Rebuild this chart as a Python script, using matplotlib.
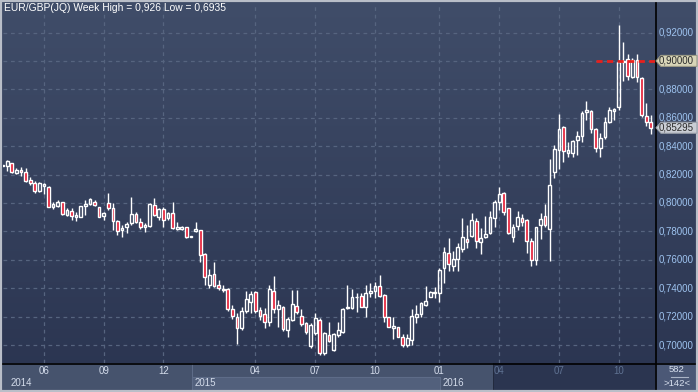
import matplotlib
matplotlib.use("Agg")
import matplotlib.pyplot as plt
import matplotlib.transforms as mtransforms
from matplotlib.patches import Rectangle, Polygon
import numpy as np

plt.rcParams['font.family'] = ['Liberation Sans', 'DejaVu Sans']

W, H = 698, 392

# weekly EUR/GBP candles (oldest first)
opens = [0.8263, 0.8260, 0.8279, 0.8213, 0.8232, 0.8216, 0.8162, 0.8143, 0.8087, 0.8120,
         0.8115, 0.7969, 0.7981, 0.8005, 0.7915, 0.7944, 0.7904, 0.7904, 0.7979, 0.7993,
         0.8005, 0.7969, 0.7911, 0.7998, 0.7962, 0.7873, 0.7810, 0.7828, 0.7857, 0.7920,
         0.7868, 0.7828, 0.7838, 0.7986, 0.7904, 0.7955, 0.7892, 0.7927, 0.7814, 0.7819,
         0.7828, 0.7761, 0.7805, 0.7810, 0.7638, 0.7422, 0.7500, 0.7422, 0.7387, 0.7392,
         0.7251, 0.7195, 0.7117, 0.7242, 0.7305, 0.7375, 0.7246, 0.7216, 0.7160, 0.7380,
         0.7251, 0.7265, 0.7105, 0.7176, 0.7274, 0.7206, 0.7152, 0.6995, 0.7082, 0.7176,
         0.6941, 0.7070, 0.6965, 0.7070, 0.7094, 0.7258, 0.7258, 0.7335, 0.7345, 0.7270,
         0.7368, 0.7382, 0.7415, 0.7352, 0.7195, 0.7120, 0.7124, 0.7057, 0.7000, 0.7035,
         0.7195, 0.7218, 0.7282, 0.7340, 0.7368, 0.7368, 0.7545, 0.7645, 0.7559, 0.7603,
         0.7678, 0.7744, 0.7768, 0.7873, 0.7723, 0.7763, 0.7791, 0.7892, 0.8005, 0.8068,
         0.7962, 0.7763, 0.7840, 0.7892, 0.7880, 0.7735, 0.7598, 0.7845, 0.7908, 0.7814,
         0.8216, 0.8373, 0.8532, 0.8349, 0.8349, 0.8443, 0.8474, 0.8643, 0.8647, 0.8521,
         0.8385, 0.8467, 0.8567, 0.8650, 0.8673, 0.8995, 0.9011, 0.8889, 0.9004, 0.8877,
         0.8610, 0.8568]
highs = [0.8266, 0.8303, 0.8284, 0.8244, 0.8251, 0.8244, 0.8181, 0.8155, 0.8145, 0.8143,
         0.8120, 0.8009, 0.8021, 0.8009, 0.7962, 0.7962, 0.7939, 0.7981, 0.8021, 0.8033,
         0.8021, 0.7974, 0.7939, 0.8068, 0.7998, 0.7880, 0.7845, 0.7868, 0.8044, 0.7939,
         0.7892, 0.7861, 0.7998, 0.8033, 0.7962, 0.7969, 0.7939, 0.8009, 0.7868, 0.7838,
         0.7833, 0.7765, 0.7868, 0.7812, 0.7645, 0.7533, 0.7587, 0.7458, 0.7422, 0.7399,
         0.7282, 0.7223, 0.7270, 0.7382, 0.7382, 0.7380, 0.7265, 0.7258, 0.7422, 0.7486,
         0.7317, 0.7274, 0.7199, 0.7387, 0.7387, 0.7251, 0.7164, 0.7152, 0.7223, 0.7188,
         0.7094, 0.7164, 0.7082, 0.7164, 0.7258, 0.7422, 0.7392, 0.7364, 0.7364, 0.7422,
         0.7439, 0.7446, 0.7493, 0.7359, 0.7197, 0.7199, 0.7129, 0.7075, 0.7077, 0.7251,
         0.7282, 0.7305, 0.7415, 0.7380, 0.7411, 0.7540, 0.7688, 0.7751, 0.7662, 0.7716,
         0.7892, 0.7845, 0.7927, 0.7897, 0.7821, 0.7908, 0.7944, 0.8021, 0.8110, 0.8080,
         0.7967, 0.7850, 0.7944, 0.7920, 0.7885, 0.7751, 0.7833, 0.7927, 0.7993, 0.8307,
         0.8408, 0.8624, 0.8544, 0.8431, 0.8443, 0.8507, 0.8647, 0.8718, 0.8654, 0.8525,
         0.8490, 0.8607, 0.8678, 0.8666, 0.9253, 0.9135, 0.9051, 0.9018, 0.9049, 0.8889,
         0.8701, 0.8621]
lows = [0.8260, 0.8227, 0.8213, 0.8204, 0.8190, 0.8150, 0.8127, 0.8073, 0.8080, 0.8061,
        0.7969, 0.7958, 0.7974, 0.7915, 0.7908, 0.7880, 0.7875, 0.7902, 0.7915, 0.7986,
        0.7979, 0.7899, 0.7880, 0.7951, 0.7810, 0.7775, 0.7758, 0.7786, 0.7845, 0.7861,
        0.7814, 0.7798, 0.7833, 0.7908, 0.7880, 0.7828, 0.7880, 0.7814, 0.7810, 0.7810,
        0.7751, 0.7760, 0.7798, 0.7587, 0.7422, 0.7404, 0.7411, 0.7387, 0.7375, 0.7242,
        0.7183, 0.7007, 0.7105, 0.7223, 0.7228, 0.7223, 0.7176, 0.7117, 0.7134, 0.7223,
        0.7124, 0.7101, 0.7054, 0.7169, 0.7218, 0.7134, 0.7077, 0.6981, 0.7070, 0.6929,
        0.6932, 0.7023, 0.6958, 0.7059, 0.7082, 0.7251, 0.7251, 0.7235, 0.7265, 0.7195,
        0.7335, 0.7328, 0.7335, 0.7164, 0.7124, 0.7042, 0.7054, 0.6988, 0.6988, 0.7000,
        0.7157, 0.7200, 0.7277, 0.7336, 0.7329, 0.7305, 0.7439, 0.7523, 0.7523, 0.7523,
        0.7657, 0.7685, 0.7758, 0.7685, 0.7641, 0.7751, 0.7779, 0.7828, 0.7951, 0.7915,
        0.7779, 0.7728, 0.7810, 0.7838, 0.7645, 0.7559, 0.7563, 0.7744, 0.7828, 0.7591,
        0.8178, 0.8239, 0.8286, 0.8326, 0.8326, 0.8338, 0.8431, 0.8584, 0.8490, 0.8361,
        0.8326, 0.8450, 0.8560, 0.8584, 0.8654, 0.8862, 0.8868, 0.8877, 0.8854, 0.8602,
        0.8545, 0.8484]
closes = [0.8264, 0.8298, 0.8220, 0.8232, 0.8216, 0.8157, 0.8138, 0.8087, 0.8138, 0.8131,
          0.7974, 0.7993, 0.8005, 0.7920, 0.7951, 0.7911, 0.7913, 0.7979, 0.7993, 0.8028,
          0.7986, 0.7904, 0.7927, 0.7962, 0.7873, 0.7803, 0.7826, 0.7852, 0.7922, 0.7868,
          0.7828, 0.7845, 0.7993, 0.7915, 0.7955, 0.7880, 0.7927, 0.7821, 0.7828, 0.7828,
          0.7758, 0.7763, 0.7814, 0.7634, 0.7476, 0.7493, 0.7418, 0.7399, 0.7392, 0.7251,
          0.7206, 0.7117, 0.7239, 0.7321, 0.7359, 0.7242, 0.7206, 0.7160, 0.7392, 0.7251,
          0.7279, 0.7110, 0.7183, 0.7289, 0.7232, 0.7145, 0.7089, 0.7138, 0.7188, 0.6941,
          0.7082, 0.7030, 0.7075, 0.7105, 0.7251, 0.7265, 0.7340, 0.7340, 0.7270, 0.7368,
          0.7382, 0.7415, 0.7345, 0.7195, 0.7129, 0.7134, 0.7059, 0.7003, 0.7047, 0.7204,
          0.7218, 0.7293, 0.7310, 0.7371, 0.7371, 0.7528, 0.7652, 0.7568, 0.7606, 0.7688,
          0.7758, 0.7723, 0.7880, 0.7732, 0.7751, 0.7779, 0.7899, 0.8005, 0.8063, 0.7939,
          0.7791, 0.7828, 0.7899, 0.7868, 0.7735, 0.7598, 0.7828, 0.7885, 0.7845, 0.8127,
          0.8380, 0.8521, 0.8366, 0.8373, 0.8438, 0.8474, 0.8631, 0.8654, 0.8521, 0.8385,
          0.8460, 0.8572, 0.8654, 0.8659, 0.8995, 0.9002, 0.8894, 0.9006, 0.8889, 0.8616,
          0.8572, 0.8530]

# axis labels
grid_weeks = [9, 22, 35, 55, 68, 81, 95, 108, 121, 134]
month_labels = ["06", "09", "12", "04", "07", "10", "01", "04", "07", "10"]
year_labels = ["2014", "2015", "2016"]
year_start_weeks = [-0.1, 41.2, 95.1]
dim_start_week = 106.9
price_ticks = [0.70, 0.72, 0.74, 0.76, 0.78, 0.80, 0.82, 0.84, 0.86, 0.88, 0.90, 0.92]
marked_level = 0.90
marked_from_week = 129
last_price = 0.85295
title = "EUR/GBP(JQ) Week High = 0,926 Low = 0,6935"
bar_count = "582"
visible_count = ">142<"

RED = '#e3112b'
GRID = '#56647f'
TICK = '#9ec3ef'

fig = plt.figure(figsize=(W / 100, H / 100), dpi=100)
px = mtransforms.IdentityTransform()

# gradient background
bg = fig.add_axes([0, 0, 1, 1])
bg.set_axis_off()
grad = np.linspace(0, 1, 256).reshape(-1, 1)
top = np.array([0x40, 0x4d, 0x69]) / 255
bot = np.array([0x2a, 0x34, 0x50]) / 255
img = top + (bot - top) * grad[:, :, None]
bg.imshow(img, aspect='auto', extent=[0, 1, 0, 1], zorder=0)
bg.set_xlim(0, 1)
bg.set_ylim(0, 1)

ax = fig.add_axes([3 / W, (H - 363) / H, 652 / W, 360 / H])
ax.set_facecolor('none')
ax.set_xlim(0.1, 141.9)
ax.set_ylim(0.68733, 0.94077)
for s in ax.spines.values():
    s.set_visible(False)
ax.set_xticks([])
ax.set_yticks([])

# grid
for p in price_ticks:
    ax.axhline(p, color=GRID, lw=0.9, ls=(0, (3, 3)), zorder=1)
for g in grid_weeks:
    ax.axvline(g, color=GRID, lw=0.9, ls=(0, (3, 3)), zorder=1)

# candles
x = np.arange(len(opens))
o = np.array(opens)
c = np.array(closes)
hi = np.array(highs)
lo = np.array(lows)
body_top = np.maximum(o, c)
body_bot = np.minimum(o, c)
ax.vlines(x, body_top, hi, color='white', lw=1, zorder=3)
ax.vlines(x, lo, body_bot, color='white', lw=1, zorder=3)
hgt = np.maximum(body_top - body_bot, 0.0004)
up = c >= o
ax.bar(x[up], hgt[up], bottom=body_bot[up], width=0.6, facecolor='none',
       edgecolor='white', lw=1, zorder=4)
ax.bar(x[~up], hgt[~up], bottom=body_bot[~up], width=0.6, facecolor=RED,
       edgecolor='white', lw=1, zorder=4)

# marked level line
ax.hlines(marked_level, marked_from_week, 141.9, color='#e8201c', lw=2,
          linestyles=(0, (2.2, 1.6)), zorder=5)

# bottom axis panel (pixel coords, origin bottom-left)
def rect(x0, y0, x1, y1, **kw):
    fig.add_artist(Rectangle((x0, H - y1), x1 - x0, y1 - y0, transform=px, **kw))

xd = lambda w: ax.transData.transform((w, 0))[0]
yd = lambda p: ax.transData.transform((0, p))[1]

rect(0, 363, W, H, facecolor='#46536d', edgecolor='none', zorder=6)
x15, x16, xdim = xd(year_start_weeks[1]), xd(year_start_weeks[2]), xd(dim_start_week)
rect(x15, 377, x16, 391, facecolor='#52607c', edgecolor='#5e6c88', lw=0.8, zorder=6.1)
rect(x15, 363, x15 + 1, 391, facecolor='#5e6c88', edgecolor='none', zorder=6.2)
rect(xdim, 363, 655, 391, facecolor='#2b3550', edgecolor='none', zorder=6.3)
rect(xdim - 1, 363, xdim, 391, facecolor='#222a3e', edgecolor='none', zorder=6.4)
rect(656, 363, W, 391, facecolor='#4b5876', edgecolor='none', zorder=6.3)

# frame lines
fig.add_artist(plt.Line2D([0, W], [H - 363.5, H - 363.5], transform=px, color='black', lw=1.2, zorder=7))
fig.add_artist(plt.Line2D([655.5, 655.5], [0, H], transform=px, color='black', lw=1.2, zorder=7))
rect(0, 0, W, H, facecolor='none', edgecolor='#b9bec8', lw=3, zorder=8)

for g, lab in zip(grid_weeks, month_labels):
    col = '#5f7292' if g > dim_start_week else '#d3dbea'
    fig.text(xd(g), H - 371.5, lab, transform=px, color=col, fontsize=7,
             ha='center', va='center', zorder=9)
for w0, lab in zip(year_start_weeks, year_labels):
    fig.text(max(xd(w0), 3) + (8 if w0 < 0 else 3), H - 383, lab, transform=px,
             color='#d3dbea', fontsize=7, ha='left', va='center', zorder=9)

fig.text(677, H - 370, bar_count, transform=px, color='#d8e0ee', fontsize=6.8,
         ha='center', va='center', zorder=9)
fig.add_artist(plt.Line2D([671, 688], [H - 377, H - 377], transform=px, color='#aab4c6', lw=0.8, zorder=9))
fig.text(677, H - 383.5, visible_count, transform=px, color='#d8e0ee', fontsize=6.8,
         ha='center', va='center', zorder=9)

# price labels on the right
def tag(p, face, edge):
    yc = yd(p)
    fig.add_artist(Polygon([(656, yc), (661, yc + 5.5), (697, yc + 5.5), (697, yc - 5.5), (661, yc - 5.5)],
                           closed=True, transform=px, facecolor=face, edgecolor=edge, lw=0.8, zorder=9))

for p in price_ticks:
    if p == marked_level:
        continue
    fig.text(658.5, yd(p), ("%.5f" % p).replace('.', ','), transform=px, color=TICK,
             fontsize=7, ha='left', va='center', zorder=10)
tag(marked_level, '#d8d5b8', '#9c9a86')
fig.text(659, yd(marked_level), ("%.5f" % marked_level).replace('.', ','), transform=px,
         color='#2b2b2b', fontsize=7, ha='left', va='center', zorder=10)
tag(last_price, '#c9cdd4', '#9aa0aa')
fig.text(659, yd(last_price), ("%.5f" % last_price).replace('.', ','), transform=px,
         color='#2b2b2b', fontsize=7, ha='left', va='center', zorder=10)

fig.text(4, H - 8, title, transform=px, color='white', fontsize=7.4, ha='left', va='center', zorder=10)

fig.savefig('out.png', dpi=100)
